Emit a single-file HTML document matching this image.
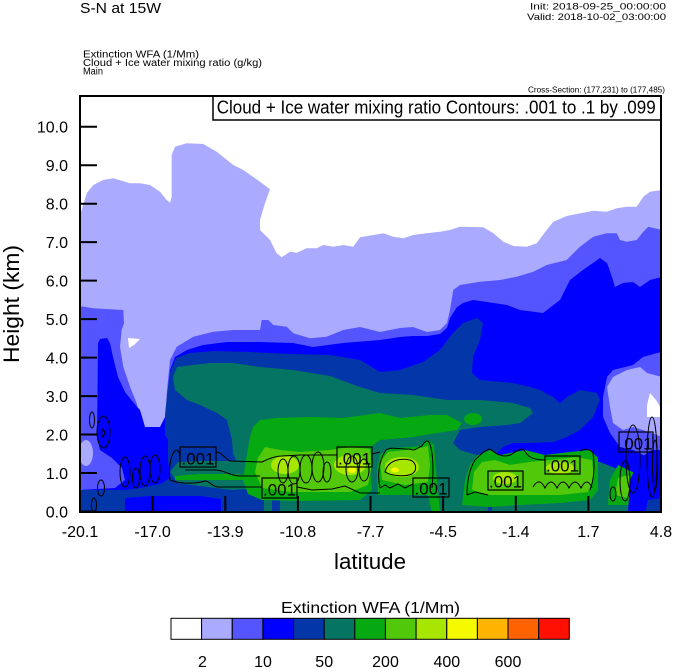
<!DOCTYPE html>
<html><head><meta charset="utf-8"><style>
html,body{margin:0;padding:0;background:#fff;}
svg{display:block;}
text{font-family:"Liberation Sans",Arial,sans-serif;fill:#000;}
</style></head><body>
<svg width="674" height="668" viewBox="0 0 674 668" xmlns="http://www.w3.org/2000/svg">
<rect x="0" y="0" width="674" height="668" fill="#fff"/>
<!-- headers -->
<text x="80" y="13" font-size="15" textLength="81" lengthAdjust="spacingAndGlyphs">S-N at 15W</text>
<text x="666" y="9.5" font-size="9" text-anchor="end" textLength="136" lengthAdjust="spacingAndGlyphs">Init: 2018-09-25_00:00:00</text>
<text x="666" y="20" font-size="9" text-anchor="end" textLength="139" lengthAdjust="spacingAndGlyphs">Valid: 2018-10-02_03:00:00</text>
<text x="83" y="57.5" font-size="10" textLength="116" lengthAdjust="spacingAndGlyphs">Extinction WFA   (1/Mm)</text>
<text x="83" y="66" font-size="10" textLength="179" lengthAdjust="spacingAndGlyphs">Cloud + Ice water mixing ratio    (g/kg)</text>
<text x="83" y="74.5" font-size="10" textLength="20" lengthAdjust="spacingAndGlyphs">Main</text>
<text x="665" y="92.3" font-size="8.5" text-anchor="end" textLength="137" lengthAdjust="spacingAndGlyphs">Cross-Section: (177,231) to (177,485)</text>

<!-- plot fill -->
<svg x="80" y="96" width="581" height="416" viewBox="80 96 581 416" overflow="hidden">
<g stroke="none">
<path fill="#aaaaff" d="M80,213 L80.7,213.3 L86.7,193.3 L93.3,185 L103.3,180 L113.3,178.3 L121.7,180.7 L130,183.3 L140,183.3 L150,185 L160,191.7 L166.7,200 L170,202.7 L171.7,196.7 L171.7,155 L175,146.7 L186.7,143.3 L203.3,144 L216.7,151.7 L233.3,165 L243.3,170 L260,181.7 L270,189.3 L265,203.3 L260,220 L260,230 L270,240 L276.7,253.3 L281.7,257.3 L290,251.7 L296.7,252.7 L306.7,248.3 L316.7,248.3 L323.3,245 L333.3,246.7 L343.3,245 L353.3,246.7 L360,237.3 L373.3,235 L383.3,233.3 L393.3,236.7 L403.3,238.3 L413.3,235 L426.7,233.3 L440,231.7 L450,230 L460,226.7 L483.3,227.3 L493.3,233.3 L503.3,241.7 L513.3,246 L526.7,246.7 L536.7,243.3 L546.7,230 L553.3,221.7 L566.7,216 L576.7,214 L593.3,210.7 L606.7,211.7 L616.7,208.3 L626.7,206.7 L636.7,206.7 L643.3,196.7 L650,191.7 L662,190 L662,513 L79,513 L79,213 Z"/>
<path fill="#5555ff" d="M79,306 L93.3,308.3 L123.3,310 L124,323.3 L121.7,330 L120,346.7 L123.3,366.7 L130,386.7 L136.7,403.3 L140,420 L141.7,431.7 L146.7,436.7 L160,433.3 L166.7,420 L166.7,393.3 L170,360 L176.7,346.7 L193.3,336.7 L213.3,331.7 L233.3,330 L260,330 L261.7,320 L268.3,320 L273.3,325 L286.7,326.7 L293.3,333.3 L310,338.3 L326.7,336.7 L343.3,330 L360,327 L380,332 L400,328 L413,327 L427,332 L440,330 L447,323 L450,310 L453.3,290 L460,285 L480,281.7 L500,280 L516.7,276.7 L533.3,271.7 L546.7,265 L566.7,260 L580,246.7 L593.3,236.7 L606.7,233.3 L616.7,233.3 L620,240 L626.7,241.7 L636.7,240 L643.3,231.7 L648.3,226.7 L662,230 L662,513 L79,513 Z"/>
<path fill="#128,338" d=""/>
<path fill="#ffffff" d="M128,338 L140,339 L134,345 L129,348 Z"/>
<path fill="#0000ff" d="M97,480 L97,437 L98,343 L100,339 L107,338 L110,343 L113,357 L118,377 L125,392 L133,402 L140,410 L143,420 L145,427 L160,427 L167,413 L168,390 L170,370 L175,357 L187,350 L203,345 L227,342 L260,342 L293,343 L313,347 L343,343 L380,340 L400,337 L413,336 L427,336 L440,334 L447,328 L450,318 L457,307 L463,303 L473,300 L487,302 L507,305 L520,310 L543,313 L560,300 L570,280 L583,270 L593,263 L600,258 L607,263 L612,277 L615,287 L623,283 L633,282 L640,287 L650,280 L662,277 L662,513 L79,513 L79,490 Z"/>
<path fill="#0336a8" d="M168,460 L165,440 L165,415 L167,395 L170,372 L176,358 L190,353 L215,351 L250,352 L290,354 L330,355 L360,360 L380,372 L400,370 L423,362 L440,350 L453,333 L463,323 L477,318 L483,323 L480,340 L473,357 L472,373 L480,380 L513,383 L530,387 L540,390 L553,397 L560,403 L567,397 L580,390 L597,393 L600,400 L593,417 L580,430 L567,437 L553,442 L530,443 L513,443 L503,447 L495,455 L480,458 L470,470 L465,513 L79,513 L79,490 L125,490 L140,488 L160,484 L170,478 Z"/>
<path fill="#067462" d="M173,377 L177,367 L193,365 L210,363 L233,363 L260,367 L293,370 L330,376 L360,387 L380,393 L413,395 L447,400 L480,400 L513,403 L530,408 L533,413 L520,423 L507,425 L480,427 L460,430 L453,443 L460,450 L480,456 L500,462 L560,462 L600,462 L620,470 L640,480 L662,485 L662,513 L264,513 L264,497 L250,490 L240,470 L233,453 L232,440 L227,420 L217,413 L200,405 L187,400 L175,390 Z"/>
<path fill="#067462" d="M170,472 L178,462 L200,461 L232,461 L255,465 L258,488 L232,490 L200,486 L178,483 Z"/>
<!-- bottom-left patches -->
<path fill="#5555ff" d="M79,420 L90,425 L97,437 L100,450 L112,458 L122,468 L125,480 L115,488 L79,490 Z"/>
<ellipse fill="#aaaaff" cx="86" cy="453" rx="7" ry="13"/>
<path fill="#0000ff" d="M140,440 L150,437 L162,430 L168,440 L168,458 L150,460 L138,455 Z"/>
<path fill="#0000ff" d="M125,513 L125,498 L150,496 L200,496 L221,499 L221,513 Z"/>
<rect fill="#0336a8" x="272" y="500" width="8" height="13"/>
<rect fill="#0336a8" x="488" y="501" width="4" height="12"/>
<!-- greens -->
<g fill="#07a912">
<path d="M250,437 L253,427 L260,420 L277,418 L310,417 L343,418 L380,413 L400,418 L430,415 L447,415 L462,423 L457,430 L437,433 L413,437 L380,440 L372,446 L370,470 L372,490 L360,500 L300,501 L262,500 L248,494 L243,480 L246,460 Z"/>
<ellipse cx="473" cy="419" rx="9" ry="6"/>
<path d="M378,495 L377,470 L380,455 L390,448 L410,447 L420,446 L428,440 L434,445 L436,470 L440,513 L432,513 L428,495 Z"/>
<path d="M462,505 L465,480 L470,465 L478,455 L490,450 L500,455 L515,452 L525,450 L545,455 L570,452 L590,450 L598,458 L598,490 L590,500 L560,503 L520,505 L490,507 Z"/>
<path d="M608,505 L610,480 L618,465 L628,470 L640,475 L648,490 L645,505 Z"/>
<path d="M175,476 L200,474 L232,474 L255,476 L255,480 L232,480 L200,480 L175,480 Z"/>
</g>
<g fill="#52c80a">
<path d="M258,458 L265,447 L280,450 L300,452 L330,450 L350,447 L370,449 L372,465 L368,485 L350,492 L320,492 L290,492 L262,488 L255,472 Z"/>
<path d="M382,480 L380,462 L388,452 L405,450 L420,448 L428,446 L430,465 L428,482 L405,485 Z"/>
<path d="M472,490 L474,472 L482,462 L495,460 L510,465 L530,462 L550,460 L575,457 L592,460 L594,478 L588,492 L560,495 L520,495 L490,495 Z"/>
<path d="M615,495 L618,478 L628,475 L638,485 L636,500 Z"/>
</g>
<g fill="#a6e600">
<ellipse cx="285" cy="465" rx="14" ry="9"/>
<ellipse cx="350" cy="465" rx="16" ry="10"/>
<ellipse cx="402" cy="467" rx="17" ry="10"/>
<ellipse cx="505" cy="478" rx="12" ry="6"/>
<ellipse cx="560" cy="468" rx="14" ry="6"/>
</g>
<g fill="#f5fa00">
<ellipse cx="352" cy="470" rx="4" ry="3"/>
<ellipse cx="395" cy="470" rx="4" ry="2.5"/>
</g>
<!-- right patches -->
<path fill="#5555ff" d="M603,397 L607,377 L613,370 L633,365 L643,357 L657,353 L662,352 L662,463 L647,457 L633,450 L620,447 L610,433 L603,417 Z"/>
<path fill="#aaaaff" d="M610,407 L607,387 L613,377 L627,370 L640,367 L647,373 L662,377 L662,437 L643,430 L633,427 L623,430 L613,423 Z"/>
<path fill="#ffffff" d="M647,417 L647,405 L650,393 L656,400 L662,410 L662,417 Z"/>
<path fill="#0000ff" d="M628,513 L630,480 L640,458 L652,450 L662,450 L662,513 Z"/>
<path fill="#0336a8" d="M645,513 L648,500 L662,498 L662,513 Z"/>
</g>
<!-- contours -->
<g fill="none" stroke="#000" stroke-width="1">
<ellipse cx="92" cy="420" rx="2.5" ry="8"/>
<ellipse cx="103.5" cy="432" rx="6.5" ry="16"/>
<path d="M103,429 L105,433 L103,437 L101,433 Z"/>
<ellipse cx="125" cy="472" rx="5" ry="15"/>
<ellipse cx="136" cy="478" rx="3.5" ry="10"/>
<ellipse cx="145" cy="471" rx="5" ry="15"/>
<ellipse cx="155" cy="469" rx="5" ry="14"/>
<ellipse cx="101" cy="488" rx="3.5" ry="8"/>
<ellipse cx="94" cy="505" rx="2.5" ry="7"/>
<path d="M170,480 C168,465 172,452 176,450 C179,450 180,455 180,458"/>
<path d="M216,452 C222,452 224,458 230,461 L262,462 C270,458 276,456 282,456 L300,455 L337,455"/>
<path d="M372,454 L380,452"/>
<path d="M170,480 C180,484 195,484 205,481 C210,481 212,487 218,487 L262,487"/>
<path d="M297,487 L312,490 L332,489 L345,486 L360,493 L380,493"/>
<path d="M185,470 L215,470 C225,470 230,476 240,476 L260,476"/>
<ellipse cx="283" cy="471" rx="5" ry="12"/>
<ellipse cx="294" cy="470" rx="6" ry="14"/>
<ellipse cx="306" cy="469" rx="6" ry="14"/>
<ellipse cx="318" cy="467" rx="6" ry="15"/>
<ellipse cx="327" cy="472" rx="4" ry="10"/>
<ellipse cx="352" cy="469" rx="6" ry="13"/>
<ellipse cx="364" cy="470" rx="5" ry="11"/>
<path d="M380,488 C377,475 379,460 386,450 C392,446 402,450 410,449 C415,452 418,447 422,446 C425,441 427,440 429,442 C433,450 434,470 432,488"/>
<path d="M380,488 L385,485 L390,488 L398,484 L405,488 L413,484"/>
<path d="M385,472 C388,460 400,458 410,460 C416,462 418,470 412,474 C405,477 392,476 385,472 Z"/>
<path d="M467,495 C467,480 470,468 475,460 C480,455 485,450 490,449 C494,451 496,455 500,455 C505,457 510,456 515,452 C519,450 521,448 524,450 C527,455 530,460 545,460"/>
<path d="M580,451 C585,448 590,449 593,453 C595,465 594,480 590,490"/>
<path d="M533,487 C537,480 541,480 545,488 C549,480 553,480 557,488 C561,480 565,480 569,488 C573,480 577,480 581,488 C585,480 589,480 592,488"/>
<path d="M467,495 L475,492 L488,495"/>
<ellipse cx="633" cy="459" rx="7" ry="34"/>
<ellipse cx="652" cy="457" rx="5" ry="40"/>
<ellipse cx="655" cy="465" rx="2.5" ry="25"/>
<ellipse cx="625" cy="481" rx="5" ry="20"/>
<ellipse cx="613" cy="494" rx="3" ry="7"/>
</g>
<!-- label boxes -->
<g fill="none" stroke="#000" stroke-width="1.2">
<rect x="180" y="447" width="36" height="20"/>
<rect x="262" y="478" width="35" height="20"/>
<rect x="337" y="447" width="35" height="20"/>
<rect x="413" y="478" width="36" height="19"/>
<rect x="488" y="471" width="35" height="19"/>
<rect x="545" y="456" width="35" height="18"/>
<rect x="619" y="432" width="34" height="20"/>
</g>
<g font-size="17" text-anchor="middle">
<text x="198" y="464.5" textLength="33" lengthAdjust="spacingAndGlyphs">.001</text>
<text x="279.5" y="495.5" textLength="33" lengthAdjust="spacingAndGlyphs">.001</text>
<text x="354.5" y="464.5" textLength="33" lengthAdjust="spacingAndGlyphs">.001</text>
<text x="431" y="494.5" textLength="33" lengthAdjust="spacingAndGlyphs">.001</text>
<text x="505.5" y="487.5" textLength="33" lengthAdjust="spacingAndGlyphs">.001</text>
<text x="562.5" y="471.5" textLength="33" lengthAdjust="spacingAndGlyphs">.001</text>
<text x="636" y="449.5" textLength="33" lengthAdjust="spacingAndGlyphs">.001</text>
</g>
</svg>

<!-- title box in plot -->
<rect x="213" y="96" width="448" height="24" fill="#fff" stroke="#000" stroke-width="1.5"/>
<text x="216.7" y="113.3" font-size="18.5" textLength="439" lengthAdjust="spacingAndGlyphs">Cloud + Ice water mixing ratio Contours: .001 to .1 by .099</text>

<!-- frame -->
<rect x="80" y="96" width="581" height="416" fill="none" stroke="#000" stroke-width="2"/>
<!-- y ticks -->
<g stroke="#000" stroke-width="2">
<line x1="80" y1="511.5" x2="97" y2="511.5"/>
<line x1="80" y1="473" x2="97" y2="473"/>
<line x1="80" y1="434.5" x2="97" y2="434.5"/>
<line x1="80" y1="396.1" x2="97" y2="396.1"/>
<line x1="80" y1="357.6" x2="97" y2="357.6"/>
<line x1="80" y1="319.1" x2="97" y2="319.1"/>
<line x1="80" y1="280.6" x2="97" y2="280.6"/>
<line x1="80" y1="242.1" x2="97" y2="242.1"/>
<line x1="80" y1="203.7" x2="97" y2="203.7"/>
<line x1="80" y1="165.2" x2="97" y2="165.2"/>
<line x1="80" y1="126.7" x2="97" y2="126.7"/>
<line x1="152.6" y1="512" x2="152.6" y2="496"/>
<line x1="225.3" y1="512" x2="225.3" y2="496"/>
<line x1="297.9" y1="512" x2="297.9" y2="496"/>
<line x1="370.5" y1="512" x2="370.5" y2="496"/>
<line x1="443.1" y1="512" x2="443.1" y2="496"/>
<line x1="515.8" y1="512" x2="515.8" y2="496"/>
<line x1="588.4" y1="512" x2="588.4" y2="496"/>
</g>
<g font-size="16" text-anchor="end">
<text x="68" y="517.5">0.0</text>
<text x="68" y="479">1.0</text>
<text x="68" y="440.5">2.0</text>
<text x="68" y="402.1">3.0</text>
<text x="68" y="363.6">4.0</text>
<text x="68" y="325.1">5.0</text>
<text x="68" y="286.6">6.0</text>
<text x="68" y="248.1">7.0</text>
<text x="68" y="209.7">8.0</text>
<text x="68" y="171.2">9.0</text>
<text x="68" y="132.7">10.0</text>
</g>
<g font-size="16" text-anchor="middle">
<text x="80" y="537">-20.1</text>
<text x="152.6" y="537">-17.0</text>
<text x="225.3" y="537">-13.9</text>
<text x="297.9" y="537">-10.8</text>
<text x="370.5" y="537">-7.7</text>
<text x="443.1" y="537">-4.5</text>
<text x="515.8" y="537">-1.4</text>
<text x="588.4" y="537">1.7</text>
<text x="661" y="537">4.8</text>
</g>
<text x="370" y="569" font-size="22" text-anchor="middle" textLength="72" lengthAdjust="spacingAndGlyphs">latitude</text>
<text transform="translate(19,304) rotate(-90)" x="0" y="0" font-size="22" text-anchor="middle" textLength="118" lengthAdjust="spacingAndGlyphs">Height (km)</text>

<!-- colorbar -->
<text x="370.5" y="613" font-size="16" text-anchor="middle" textLength="179" lengthAdjust="spacingAndGlyphs">Extinction WFA  (1/Mm)</text>
<g stroke="#000" stroke-width="1">
<rect x="171" y="618.3" width="30.6" height="21" fill="#ffffff"/>
<rect x="201.6" y="618.3" width="30.6" height="21" fill="#aaaaff"/>
<rect x="232.3" y="618.3" width="30.6" height="21" fill="#5555ff"/>
<rect x="262.9" y="618.3" width="30.6" height="21" fill="#0000ff"/>
<rect x="293.6" y="618.3" width="30.6" height="21" fill="#0336a8"/>
<rect x="324.2" y="618.3" width="30.6" height="21" fill="#067462"/>
<rect x="354.8" y="618.3" width="30.6" height="21" fill="#07a912"/>
<rect x="385.5" y="618.3" width="30.6" height="21" fill="#52c80a"/>
<rect x="416.1" y="618.3" width="30.6" height="21" fill="#a6e600"/>
<rect x="446.8" y="618.3" width="30.6" height="21" fill="#f5fa00"/>
<rect x="477.4" y="618.3" width="30.6" height="21" fill="#ffb400"/>
<rect x="508" y="618.3" width="30.6" height="21" fill="#ff6200"/>
<rect x="538.7" y="618.3" width="30.6" height="21" fill="#ff1000"/>
</g>
<g font-size="16" text-anchor="middle">
<text x="202.5" y="667">2</text>
<text x="263" y="667">10</text>
<text x="324.2" y="667">50</text>
<text x="385.5" y="667">200</text>
<text x="446.8" y="667">400</text>
<text x="508" y="667">600</text>
</g>
</svg>
</body></html>
